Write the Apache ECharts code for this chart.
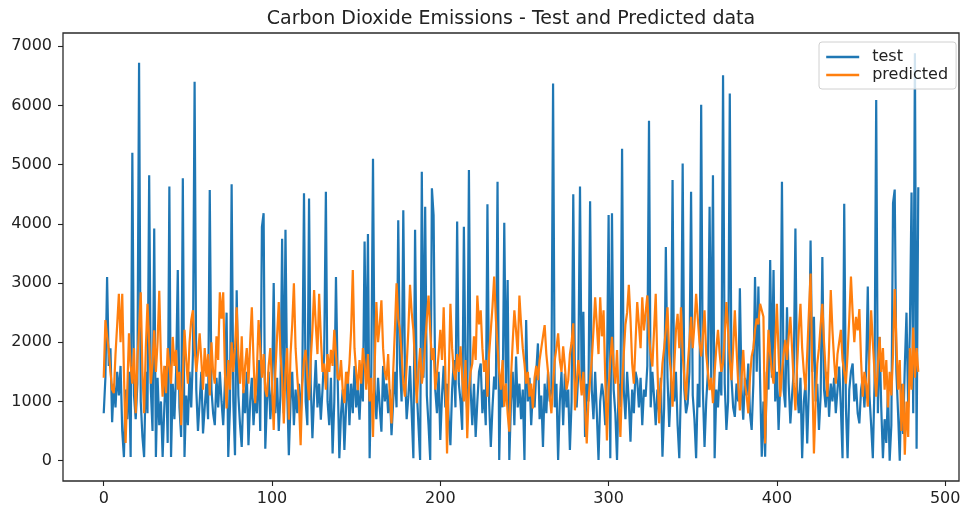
<!DOCTYPE html>
<html>
<head>
<meta charset="utf-8">
<script src="https://cdn.jsdelivr.net/npm/echarts@6/dist/echarts.min.js"></script>
<style>
  html, body { margin: 0; padding: 0; background: #fff; }
  #main { width: 964px; height: 508px; }
</style>
</head>
<body>
<div id="main"></div>
<script>
var titleText = 'Carbon Dioxide Emissions - Test and Predicted data';
var seriesNames = ['test', 'predicted'];
var xTicks = [0, 100, 200, 300, 400, 500];
var yTicks = [0, 1000, 2000, 3000, 4000, 5000, 6000, 7000];

// test values (index 0..484)
var testValues = [
    800, 1400, 3100, 1600, 1900, 650, 1300, 900, 1500, 1100,
    1600, 500, 60, 1200, 700, 1500, 60, 5200, 1100, 700,
    1300, 6720, 1000, 400, 60, 1500, 800, 4820, 1200, 500,
    3920, 60, 1400, 600, 1000, 60, 900, 1600, 300, 4630,
    60, 1300, 700, 1500, 3220, 900, 400, 4770, 60, 1100,
    600, 1500, 900, 1800, 6400, 1200, 500, 1000, 1500, 460,
    900, 1300, 700, 4570, 1200, 800, 600, 1400, 900, 1500,
    1000, 600, 1300, 2500, 60, 900, 4670, 1000, 90, 2880,
    1100, 600, 230, 1200, 800, 1500, 260, 1000, 1400, 600,
    1100, 800, 1700, 500, 3950, 4180, 200, 1000, 1500, 700,
    1200, 3000, 800, 1400, 500, 1100, 3750, 800, 3900, 1200,
    90, 1000, 1500, 600, 1200, 800, 1300, 710, 1400, 4515,
    1000, 600, 4430, 1300, 380, 1100, 1700, 900, 1300, 690,
    1200, 1800, 4540, 1000, 600, 1400, 120, 1000, 3100, 1400,
    40, 800, 1200, 180, 900, 1500, 600, 1300, 800, 1600,
    900, 1200, 690, 1400, 1000, 3700, 1300, 3830, 40, 1500,
    5100, 1200, 700, 1400, 900, 490, 1600, 1000, 1300, 800,
    1200, 430, 1000, 1500, 900, 4060, 1640, 1000, 4230, 1500,
    700, 1080, 1600, 800, 40, 3900, 1200, 600, 10, 4880,
    1400, 4290, 1100, 600, 10, 4600, 4150, 1200, 800, 1500,
    350, 1100, 1600, 900, 1300, 700, 260, 1200, 1700, 900,
    4040, 1300, 1000, 520, 3950, 1400, 800, 4910, 1200, 600,
    1300, 400, 1000, 1500, 1640, 800, 1200, 600, 4330, 1000,
    230, 900, 1420, 1200, 4710, 10, 1400, 900, 4020, 1300,
    3050, 10, 1000, 1500, 600, 1760, 900, 1300, 700, 1200,
    10, 2375, 1000, 1400, 600, 1200, 900, 1500, 1980, 700,
    1100, 230, 1300, 800, 1500, 1000, 1200, 6370, 900, 1300,
    10, 1000, 1500, 600, 1470, 900, 1200, 180, 1000, 4500,
    1400, 900, 1500, 4630, 1200, 2515, 400, 1300, 1000, 4380,
    1200, 700, 1500, 800, 10, 1000, 1300, 1080, 600, 1400,
    4150, 40, 4180, 1200, 800, 10, 1300, 900, 5270, 1200,
    700, 1500, 1000, 320, 1200, 800, 1500, 1360, 900, 1400,
    600, 1200, 1080, 1600, 5740, 900, 1500, 1080, 600, 1200,
    800, 1400, 66, 900, 3610, 1400, 570, 1200, 4740, 1000,
    1500, 600, 40, 1300, 5020, 1200, 800, 970, 1500, 4540,
    1100, 700, 40, 1300, 900, 6010, 1200, 230, 1000, 1500,
    4290, 1300, 4820, 40, 1200, 900, 1500, 1100, 6510, 1300,
    520, 1000, 6200, 1400, 900, 740, 1300, 1000, 2910, 1200,
    690, 1400, 1100, 1640, 800, 520, 1300, 3100, 1500, 2940,
    1360, 66, 1000, 66, 1500, 1200, 3390, 1400, 3220, 1000,
    1500, 520, 1300, 4710, 1200, 900, 2590, 1300, 630, 1100,
    1500, 3920, 1200, 800, 1400, 40, 1000, 1300, 290, 1200,
    3720, 1500, 2430, 1000, 1300, 520, 1100, 3440, 1200, 900,
    1500, 740, 1300, 1000, 1400, 800, 1200, 1590, 900, 40,
    4340, 900, 40, 1200, 1500, 1640, 1000, 1300, 800, 630,
    1200, 1400, 900, 1500, 2940, 1100, 600, 40, 1300, 6090,
    800, 2090, 900, 40, 700, 300, 1200, 0, 600, 4350,
    4580, 1500, 800, 0, 1300, 450, 1600, 2500, 900, 2200,
    4530, 800, 6880, 200, 4620
];

// predicted values (index 0..484)
var predictedValues = [
    1400, 2375, 2100, 1870, 1500, 1200, 1140, 1800, 2300, 2820,
    2000, 2820, 1500, 300, 1200, 2150, 1600, 1300, 1900, 800,
    1700, 2200, 2845, 1500, 800, 1900, 2650, 2000, 1300, 1640,
    2200, 1500, 2000, 2870, 1700, 1080, 1600, 1140, 1900, 1590,
    1300, 2090, 1600, 1870, 1200, 1500, 600, 1400, 2210, 1700,
    1300, 2000, 2375, 2540, 1900, 1500, 1800, 2150, 1700, 1200,
    1900, 1420, 1800, 1100, 2000, 1500, 1300, 2100, 1700, 2845,
    2400, 2845, 1500, 880, 1700, 1200, 2000, 1500, 1900, 2590,
    1800, 1300, 2100, 1140, 1600, 1900, 1300, 2000, 2590, 1700,
    970, 1500, 2375, 1900, 1400, 1800, 1200, 1080, 1600, 1900,
    1300, 520, 1500, 2100, 2680, 1800, 1400, 630, 1500, 1900,
    690, 1800, 2300, 2995, 1900, 1420, 1000, 260, 1300, 1700,
    1870, 1400, 1020, 1700, 2200, 2880, 2300, 1800, 2820, 2100,
    1500, 1640, 1200, 1800, 1500, 1870, 1600, 2210, 1800, 1400,
    1360, 1700, 1200, 970, 1500, 1300, 1640, 2200, 3220, 1900,
    1500, 1190, 1700, 1300, 1900, 1640, 1200, 1800, 1000, 1400,
    400, 1600, 2680, 2000, 2300, 2710, 1900, 1500, 1360, 1800,
    1100, 630, 1500, 2200, 2995, 2400, 2210, 1800, 1300, 1080,
    1600, 2200, 2970, 2500, 2210, 1600, 970, 1500, 1900, 1300,
    1530, 2000, 2400, 2790, 2200, 1700, 1900, 1200, 1470, 1800,
    2210, 1700, 2590, 1500, 120, 1400, 2650, 1900, 1500, 1360,
    1800, 1500, 1930, 1400, 1000, 1700, 380, 1200, 1500, 1640,
    2100, 1700, 2790, 2300, 2540, 1900, 1500, 1700, 1080, 1800,
    2200, 2600, 3110, 2400, 1930, 1500, 1200, 1700, 910, 1300,
    800, 490, 1400, 2000, 2540, 2200, 1800, 2790, 2300, 1900,
    1640, 1300, 1500, 1080, 1300, 880, 1400, 1600, 1360, 1700,
    1900, 2100, 2290, 1800, 1500, 1100, 800, 1300, 1700, 1900,
    2150, 1700, 1500, 1930, 1600, 1200, 1360, 1800, 2000, 2320,
    850, 1300, 1700, 1420, 1100, 1500, 900, 290, 1000, 1360,
    1700, 2200, 2760, 2300, 1800, 2760, 2100, 2540, 1400, 340,
    1200, 1700, 2090, 1600, 1300, 1870, 1000, 400, 1300, 1800,
    2300, 2500, 2970, 2400, 1640, 1300, 2000, 2680, 2300, 1900,
    2760, 2200, 2500, 2790, 2100, 1800, 1590, 2200, 2820, 1600,
    630, 1200, 1640, 1900, 2210, 2590, 1800, 1500, 910, 1600,
    2200, 2480, 1900, 2590, 1800, 1400, 1020, 1600, 2000, 2430,
    1900, 2300, 2820, 2400, 2000, 1760, 2100, 2540, 1800, 1500,
    1190, 1400, 970, 1500, 1900, 2210, 1800, 1500, 1640, 2100,
    2680, 2200, 1700, 1360, 1900, 2540, 1900, 1300, 850, 1400,
    1870, 1300, 1100, 800, 1400, 1760, 1900, 2210, 2400, 2300,
    2650, 2650, 2430, 290, 1400, 2210, 1800, 1500, 1300, 2000,
    2650, 1800, 1080, 1500, 1800, 2040, 1700, 2100, 2430, 1900,
    1300, 850, 1600, 2200, 2650, 1900, 1500, 1190, 1800, 2500,
    3160, 1500, 120, 1000, 1640, 1900, 2300, 2650, 2000, 1500,
    1080, 1900, 2880, 2200, 1700, 1300, 1800, 2000, 2210, 1700,
    1500, 1300, 1800, 2400, 3110, 2500, 2000, 2430, 2200, 2560,
    1700, 1080, 1500, 1300, 910, 1800, 2540, 2000, 1500, 1080,
    1600, 2090, 1500, 1900, 1200, 1700, 900, 1500, 1100, 1800,
    2900, 2000, 1200, 1700, 500, 1300, 100, 1000, 400, 1900,
    1200, 2250, 1400, 1900, 1500
];

function toPairs(values) {
    return values.map(function(v, i) {
        return [i, v];
    });
}

function plainNumber(v) {
    return String(v);
}

var font = 'DejaVu Sans';
var inkColor = '#222';

var myChart = echarts.init(document.getElementById('main'), null, { renderer: 'canvas' });

var option = {
    animation: false,
    backgroundColor: '#fff',
    title: {
        text: titleText,
        left: 511,
        top: 10,
        padding: 0,
        textAlign: 'center',
        textStyle: {
            fontFamily: font,
            fontSize: 19,
            fontWeight: 'normal',
            color: inkColor
        }
    },
    legend: {
        data: seriesNames,
        orient: 'vertical',
        left: 819,
        top: 42,
        padding: [7, 8, 6, 6],
        itemWidth: 33,
        itemHeight: 16,
        itemGap: 2,
        itemStyle: { opacity: 0 },
        lineStyle: { width: 2.4 },
        backgroundColor: 'rgba(255,255,255,0.8)',
        borderColor: '#d0d0d0',
        borderWidth: 1,
        borderRadius: 3,
        textStyle: {
            fontFamily: font,
            fontSize: 16,
            color: inkColor,
            padding: [0, 0, 0, 8]
        }
    },
    grid: {
        left: 63,
        right: 5,
        top: 33,
        bottom: 27,
        show: true,
        borderColor: '#2a2a2a',
        borderWidth: 1.3,
        backgroundColor: 'transparent'
    },
    xAxis: {
        type: 'value',
        min: -24.2,
        max: 508.2,
        axisLine: { show: false, onZero: false },
        splitLine: { show: false },
        axisTick: {
            show: true,
            length: 5,
            customValues: xTicks,
            lineStyle: { color: inkColor, width: 1.1 }
        },
        axisLabel: {
            customValues: xTicks,
            formatter: plainNumber,
            margin: 10,
            fontFamily: font,
            fontSize: 16,
            color: inkColor
        }
    },
    yAxis: {
        type: 'value',
        min: -344,
        max: 7224,
        axisLine: { show: false, onZero: false },
        splitLine: { show: false },
        axisTick: {
            show: true,
            length: 5,
            customValues: yTicks,
            lineStyle: { color: inkColor, width: 1.1 }
        },
        axisLabel: {
            customValues: yTicks,
            formatter: plainNumber,
            margin: 11,
            fontFamily: font,
            fontSize: 16,
            color: inkColor
        }
    },
    series: [{
        name: seriesNames[0],
        type: 'line',
        data: toPairs(testValues),
        symbol: 'none',
        showSymbol: false,
        color: '#1f77b4',
        lineStyle: { width: 2.2, color: '#1f77b4' }
    }, {
        name: seriesNames[1],
        type: 'line',
        data: toPairs(predictedValues),
        symbol: 'none',
        showSymbol: false,
        color: '#ff7f0e',
        lineStyle: { width: 2.2, color: '#ff7f0e' }
    }]
};

myChart.setOption(option);

window.onresize = function() {
    myChart.resize();
};
</script>
</body>
</html>
